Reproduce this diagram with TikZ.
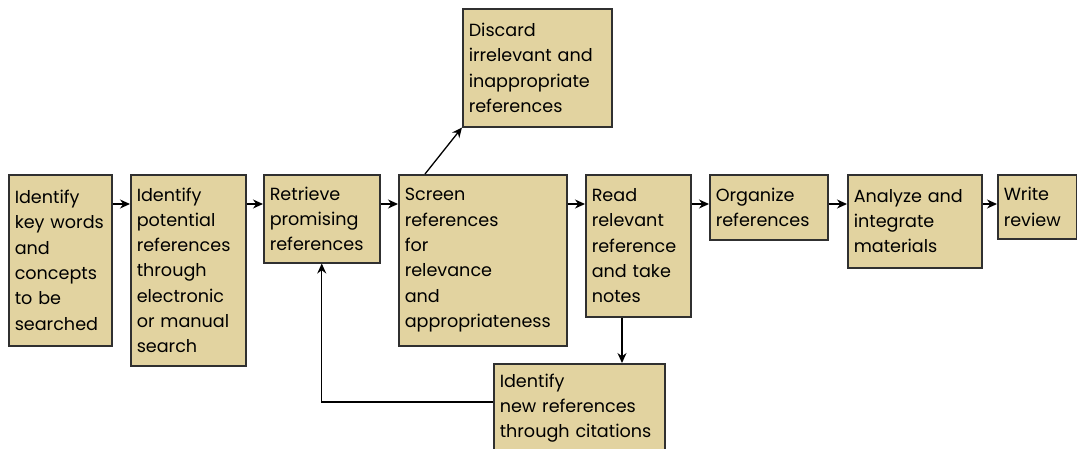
\documentclass[tikz,border=0pt]{standalone}
\usepackage{fontspec}
\setmainfont{Poppins}
\usetikzlibrary{arrows.meta}
\definecolor{boxtan}{HTML}{E2D3A0}
\definecolor{boxline}{HTML}{303030}
\hyphenpenalty=10000
\begin{document}
\begin{tikzpicture}[x=1pt,y=-1pt,
    stage/.style = {draw=boxline,line width=1.5pt,fill=boxtan,anchor=north west,
                    align=left,inner xsep=6pt,inner ysep=0pt,
                    font=\fontsize{17.6}{25.3}\selectfont},
    arrow/.style = {line width=1.3pt,-{Stealth[length=10pt,width=9pt]}}]
    \useasboundingbox (0,0) rectangle (1077,448);

    \node[stage,text width=91pt,minimum height=171pt] (keywords) at (8,174)
        {Identify\\key~words\\and\\concepts\\to~be\\searched};
    \node[stage,text width=103pt,minimum height=191pt] (potential) at (130,174)
        {Identify\\potential\\references\\through\\electronic\\or~manual\\search};
    \node[stage,text width=104pt,minimum height=88pt] (retrieve) at (263,174)
        {Retrieve\\promising\\references};
    \node[stage,text width=156pt,minimum height=171pt] (screen) at (398,174)
        {Screen\\references\\for\\relevance\\and\\appropriateness};
    \node[stage,text width=93pt,minimum height=142pt] (read) at (585,174)
        {Read\\relevant\\reference\\and~take\\notes};
    \node[stage,text width=106pt,minimum height=65pt] (organize) at (709,174)
        {Organize\\references};
    \node[stage,text width=122pt,minimum height=93pt] (analyze) at (847,174)
        {Analyze~and\\integrate\\materials};
    \node[stage,text width=67pt,minimum height=64pt] (write) at (997,174)
        {Write\\review};
    \node[stage,text width=137pt,minimum height=118pt] (discard) at (462,8)
        {Discard\\irrelevant~and\\inappropriate\\references};
    \node[stage,text width=159pt,minimum height=89pt] (newrefs) at (493,363)
        {Identify\\new~references\\through~citations};

    % main chain
    \foreach \a/\b in {keywords/potential,potential/retrieve,retrieve/screen,
                       screen/read,read/organize,organize/analyze,analyze/write}
        \draw[arrow] ([yshift=-30pt]\a.north east) -- ([yshift=-30pt]\b.north west);

    \draw[arrow] ([xshift=27pt]screen.north west) -- (discard.south west);
    \draw[arrow] ([xshift=37pt]read.south west) -- ([xshift=37pt]read.south west |- newrefs.north);
    \draw[arrow] ([yshift=-39pt]newrefs.north west) -| (retrieve.south);
\end{tikzpicture}
\end{document}
